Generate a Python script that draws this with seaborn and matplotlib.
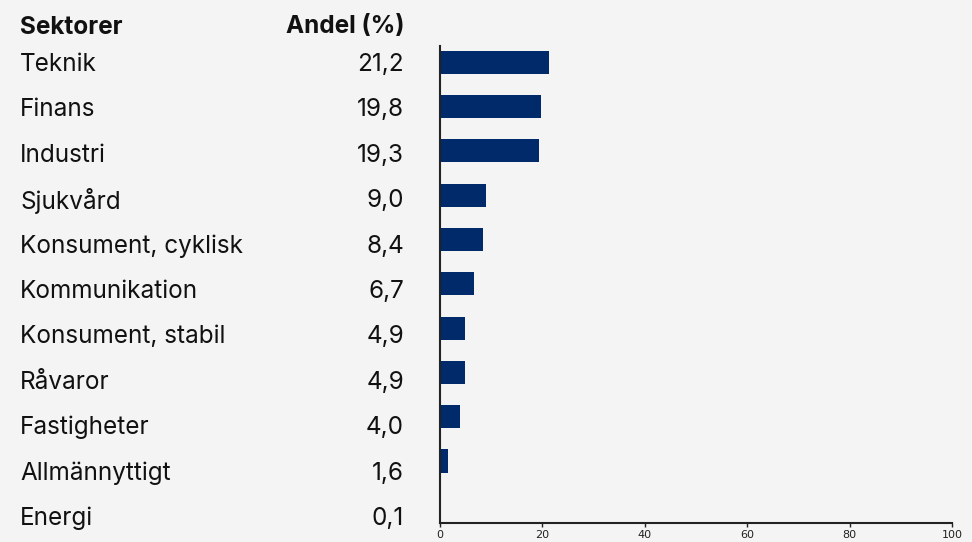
import matplotlib
matplotlib.use("Agg")
import matplotlib.pyplot as plt
import seaborn as sns
import pandas as pd

sectors = ["Teknik", "Finans", "Industri", "Sjukvård", "Konsument, cyklisk",
           "Kommunikation", "Konsument, stabil", "Råvaror", "Fastigheter",
           "Allmännyttigt", "Energi"]
shares = [21.2, 19.8, 19.3, 9.0, 8.4, 6.7, 4.9, 4.9, 4.0, 1.6, 0.1]
header_left = "Sektorer"
header_right = "Andel (%)"
x_ticks = [0, 20, 40, 60, 80, 100]

sns.set_theme(style="white")
plt.rcParams['font.family'] = ['Inter', 'DejaVu Sans']

BG = "#f4f4f4"
W, H = 972, 542
fig = plt.figure(figsize=(W / 100, H / 100), dpi=100, facecolor=BG)

ax = fig.add_axes([440 / W, (H - 523) / H, 512 / W, 477 / H])
ax.set_facecolor(BG)
df = pd.DataFrame({"sector": sectors, "share": shares})
sns.barplot(data=df, x="share", y="sector", orient="h", color="#012a6b",
            saturation=1, width=0.52, linewidth=0, edgecolor="none", ax=ax)
ax.set_xlim(0, 100)
ax.set_ylim(10.4, -0.37)
ax.set_xticks(x_ticks)
ax.set_xticklabels([str(t) for t in x_ticks], fontsize=8, family="DejaVu Sans", color="#222222")
ax.set_yticks([])
ax.set_xlabel("")
ax.set_ylabel("")
for s in ["top", "right"]:
    ax.spines[s].set_visible(False)
for s in ["left", "bottom"]:
    ax.spines[s].set_color("#222222")
    ax.spines[s].set_linewidth(1.5)
ax.tick_params(axis="x", direction="out", length=3, width=1, color="#222222", pad=2, bottom=True)

def fy(px):
    return (H - px) / H

FS = 17.5
fig.text(20 / W, fy(27), header_left, fontsize=FS, fontweight="bold", va="center", ha="left", color="#111111")
fig.text(404 / W, fy(27), header_right, fontsize=FS, fontweight="bold", va="center", ha="right", color="#111111")
for i, (s, v) in enumerate(zip(sectors, shares)):
    y = fy(64.5 + i * 45.4)
    fig.text(20 / W, y, s, fontsize=FS, va="center", ha="left", color="#111111")
    fig.text(404 / W, y, f"{v:.1f}".replace(".", ","), fontsize=FS, va="center", ha="right", color="#111111")

fig.savefig("out.png", dpi=100, facecolor=BG)
